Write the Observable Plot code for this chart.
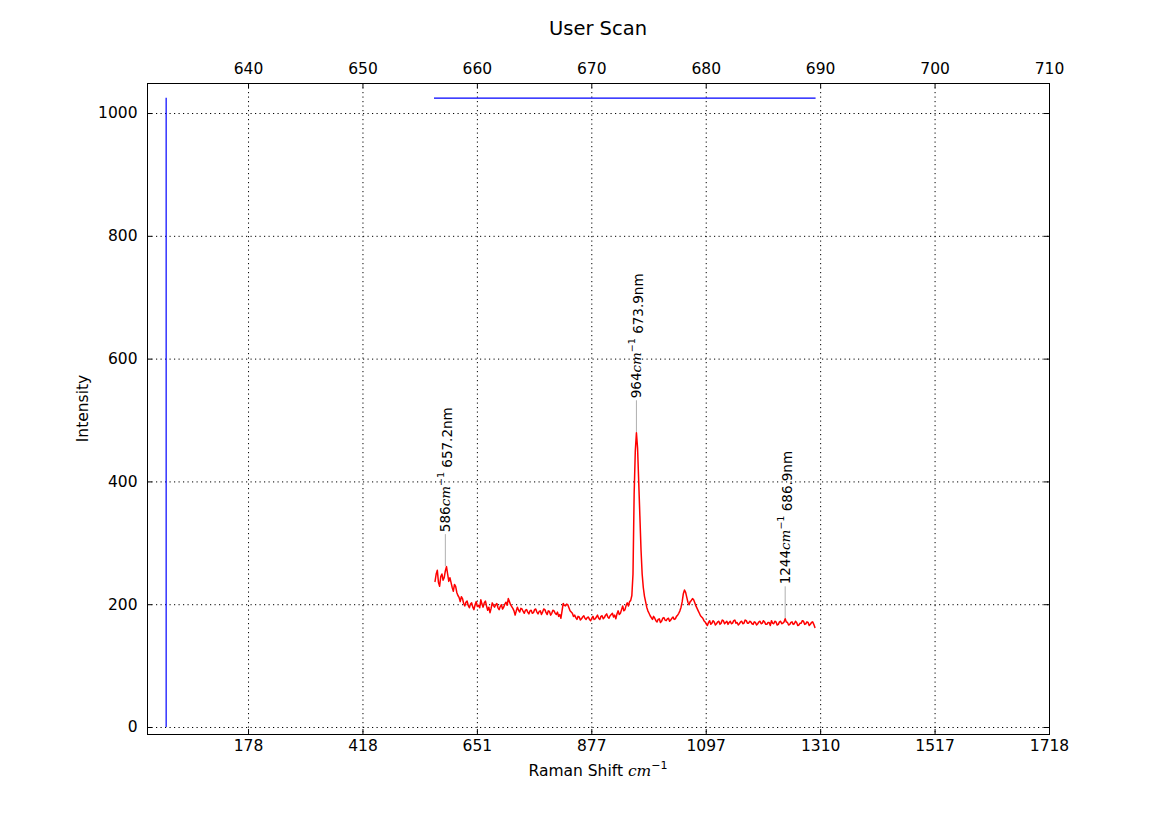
<!DOCTYPE html>
<html><head><meta charset="utf-8">
<script src="https://cdn.jsdelivr.net/npm/d3@7"></script>
<script src="https://cdn.jsdelivr.net/npm/@observablehq/plot@0.6"></script>
<style>body{margin:0;background:#fff} #chart{width:1165px;height:815px}</style>
</head><body><div id="chart"></div>
<script>
// ---- data ----
const wavelengthTicks = [640, 650, 660, 670, 680, 690, 700, 710];
const ramanTickLabels = ["178", "418", "651", "877", "1097", "1310", "1517", "1718"];
const intensityTicks = [0, 200, 400, 600, 800, 1000];
const laserLine = [632.8];
const scanRange = [656.25, 689.6];
const markerLevel = 1025;
const specStart = 656.3;   // nm, first sample
const specStep = 0.1;      // nm, sample spacing
const intensity = [
  238,250,256,236,230,246,250,240,244,255,262,250,238,244,236,228,222,233,230,220,
  215,212,205,213,210,202,198,204,206,199,195,201,203,196,192,200,205,197,199,195,
  208,201,196,203,206,198,191,196,187,194,203,199,196,200,202,195,192,197,200,193,
  196,201,204,199,210,205,200,197,194,190,183,190,196,191,188,194,193,189,186,191,
  192,188,185,190,191,186,187,192,193,188,185,189,190,184,188,193,192,187,184,190,
  189,183,186,191,190,186,184,188,181,184,178,190,202,199,198,201,200,195,190,188,
  186,181,183,179,176,181,180,175,177,180,182,178,176,179,180,176,174,178,181,176,
  177,180,183,178,176,181,182,177,179,183,185,180,178,182,184,186,180,183,177,185,
  190,184,186,192,198,190,192,199,203,198,205,207,215,250,380,450,480,455,400,345,
  290,250,228,214,205,196,190,186,182,179,176,181,178,174,172,176,177,171,173,178,
  179,175,174,177,178,173,175,178,180,176,177,181,183,186,190,196,205,218,224,220,
  212,204,200,205,207,210,208,203,198,194,190,186,182,180,178,174,172,169,166,171,
  174,168,170,174,172,167,169,172,173,168,170,175,174,169,171,173,168,171,173,169,
  170,174,175,170,171,167,169,172,173,169,170,175,174,170,170,173,172,169,168,172,
  171,167,169,172,173,169,170,174,172,168,168,171,171,166,174,170,169,173,172,167,
  168,172,173,169,170,172,177,172,171,167,168,171,172,168,169,173,171,166,167,170,
  170,174,173,168,169,172,171,166,168,171,172,168,163
];
const peakShift = [586, 964, 1244];
const peakNm = [657.2, 673.9, 686.9];
const peakIntensity = [262, 480, 177];

// ---- tables ----
const spectrum = intensity.map((v, i) => ({nm: +(specStart + i * specStep).toFixed(2), I: v}));
const peaks = peakNm.map((nm, i) => ({nm, I: peakIntensity[i], shift: peakShift[i]}));

const W = 1165, H = 815, mL = 147, mR = 116, mT = 83, mB = 81;
const pw = W - mL - mR, ph = H - mT - mB;
const dots = {stroke: "black", strokeWidth: 1, strokeDasharray: "1.2,3.3"};

const plot = Plot.plot({
  width: W, height: H,
  marginLeft: mL, marginRight: mR, marginTop: mT, marginBottom: mB,
  style: {fontFamily: "'DejaVu Sans', sans-serif", fontSize: "15.5px", background: "white", color: "black", overflow: "visible"},
  x: {domain: [631.17, 710], axis: null},
  y: {domain: [-11.4, 1048.9], axis: null},
  marks: [
    Plot.ruleX(wavelengthTicks, {x: d => d, ...dots}),
    Plot.ruleY(intensityTicks, {y: d => d, ...dots}),
    Plot.ruleX(wavelengthTicks, {x: d => d, insetBottom: ph - 5, stroke: "black"}),
    Plot.ruleX(wavelengthTicks, {x: d => d, insetTop: ph - 5, stroke: "black"}),
    Plot.ruleY(intensityTicks, {y: d => d, insetRight: pw - 5, stroke: "black"}),
    Plot.ruleY(intensityTicks, {y: d => d, insetLeft: pw - 5, stroke: "black"}),
    Plot.ruleX(laserLine, {x: d => d, y1: 0, y2: markerLevel, stroke: "blue", strokeWidth: 1.2}),
    Plot.ruleY([markerLevel], {y: d => d, x1: scanRange[0], x2: scanRange[1], stroke: "blue", strokeWidth: 1.2}),
    Plot.ruleX(peaks, {x: "nm", y1: "I", y2: "I", insetBottom: 32, stroke: "#b0b0b0", strokeWidth: 1}),
    Plot.line(spectrum, {x: "nm", y: "I", stroke: "red", strokeWidth: 1.5}),
    Plot.text(wavelengthTicks, {x: d => d, frameAnchor: "top", lineAnchor: "middle", dy: -14, text: d => String(d)}),
    Plot.text(wavelengthTicks, {x: d => d, frameAnchor: "bottom", lineAnchor: "middle", dy: 12, text: d => ramanTickLabels[wavelengthTicks.indexOf(d)]}),
    Plot.text(intensityTicks, {y: d => d, frameAnchor: "left", dx: -10, textAnchor: "end", text: d => String(d)}),
    Plot.frame({stroke: "black", strokeWidth: 1})
  ]
});
document.getElementById("chart").appendChild(plot);

const svg = d3.select(plot);
const xS = plot.scale("x"), yS = plot.scale("y");
const serifItalic = "'DejaVu Serif', serif";

svg.append("text").attr("x", mL + pw / 2).attr("y", 35)
  .attr("text-anchor", "middle").attr("font-size", "19.5px").attr("fill", "black").text("User Scan");

const xl = svg.append("text").attr("x", mL + pw / 2).attr("y", 776)
  .attr("text-anchor", "middle").attr("font-size", "15.5px").attr("fill", "black");
xl.append("tspan").text("Raman Shift ");
xl.append("tspan").attr("font-family", serifItalic).attr("font-style", "italic").text("cm");
xl.append("tspan").attr("font-size", "11px").attr("dy", "-0.6em").text("\u22121");

svg.append("text").attr("transform", `translate(88,${mT + ph / 2}) rotate(-90)`)
  .attr("text-anchor", "middle").attr("font-size", "15.5px").attr("fill", "black").text("Intensity");

for (const p of peaks) {
  const x = xS.apply(p.nm), y = yS.apply(p.I) - 34;
  const t = svg.append("text").attr("transform", `translate(${x},${y}) rotate(-90)`)
    .attr("text-anchor", "start").attr("dy", "0.36em").attr("font-size", "13.5px").attr("fill", "black");
  t.append("tspan").text(String(p.shift));
  t.append("tspan").attr("font-family", serifItalic).attr("font-style", "italic").text("cm");
  t.append("tspan").attr("font-size", "9.5px").attr("dy", "-0.6em").text("\u22121");
  t.append("tspan").attr("dy", "0.6em").text("\u00a0" + p.nm.toFixed(1) + "nm");
}
</script></body></html>
